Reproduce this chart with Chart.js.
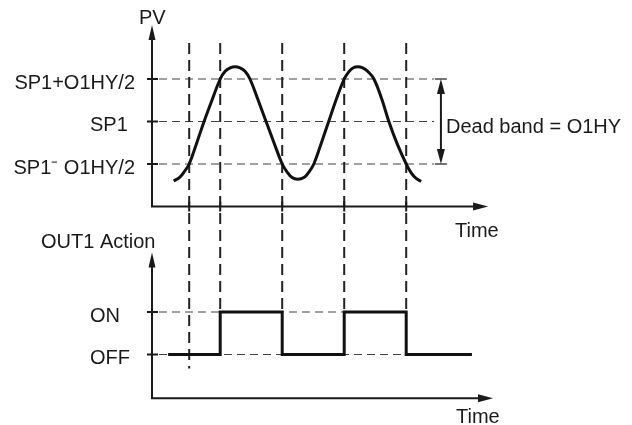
<!DOCTYPE html>
<html>
<head>
<meta charset="utf-8">
<title>OUT1 dead band</title>
<script src="https://cdn.jsdelivr.net/npm/chart.js@4.4.1/dist/chart.umd.min.js"></script>
<style>
    html, body { margin: 0; padding: 0; background: #fff; }
    #grafico { display: block; }
</style>
</head>
<body>
<canvas id="grafico" width="632" height="425"></canvas>
<script>
// PV curve: time and PV (relative to SP1, in units of O1HY/2)
const pvTime = [3.5, 4.5, 5.3, 6, 7.2, 8.4, 9.7, 11, 11.8, 12.6, 13.4, 14.2, 15, 15.8,
    17.1, 18.4, 19.7, 21, 21.8, 22.6, 23.5, 24.5, 25.3, 26.1, 27.3, 28.5, 29.7, 31,
    31.8, 32.4, 33.2, 34, 34.8, 35.8, 37.1, 38.2, 39.5, 41, 41.8, 42.6, 43.4];
const pvValue = [-1.4, -1.31, -1.16, -1.0, -0.51, 0, 0.51, 1.0, 1.18, 1.26, 1.29, 1.26, 1.18, 1.0,
    0.51, 0, -0.51, -1.0, -1.19, -1.32, -1.36, -1.32, -1.19, -1.0, -0.51, 0, 0.51, 1.0,
    1.18, 1.26, 1.29, 1.26, 1.18, 1.0, 0.51, 0, -0.51, -1.0, -1.21, -1.34, -1.41];

// OUT1 state changes (0 = OFF, 1 = ON)
const outTime = [2.6, 11, 21, 31, 41, 51.6];
const outState = [0, 1, 0, 1, 0, 0];

// instants where PV crosses a band limit
const switchTimes = [6, 11, 21, 31, 41];

// axis tick labels
const pvTicks = [1, 0, -1];
const pvTickLabels = ['SP1+O1HY/2', 'SP1', 'SP1\u207B O1HY/2'];
const outTicks = [1, 0];
const outTickLabels = ['ON', 'OFF'];

const FONT = '20px "Liberation Sans", Arial, sans-serif';
const INK = '#1a1a1a';

// pixel anchors used to place the three hidden scales over the whole canvas
const W = 632, H = 425;
const ORIGIN_X = 152, PX_PER_T = 6.2;
const PV_ZERO = 121.5, OUT_ZERO = 354.5, PX_PER_V = 42.5;

function scaleRange(zeroPx, pxPerUnit, size) {
    const max = zeroPx / pxPerUnit;
    return { min: max - size / pxPerUnit, max };
}

function line(ctx, x1, y1, x2, y2) {
    ctx.beginPath();
    ctx.moveTo(x1, y1);
    ctx.lineTo(x2, y2);
    ctx.stroke();
}

// filled arrow head with its tip at (x, y), pointing along (dx, dy)
function arrowHead(ctx, x, y, dx, dy, len, half) {
    ctx.beginPath();
    ctx.moveTo(x, y);
    ctx.lineTo(x - dx * len - dy * half, y - dy * len + dx * half);
    ctx.lineTo(x - dx * len + dy * half, y - dy * len - dx * half);
    ctx.closePath();
    ctx.fill();
}

function drawAxes(ctx, x, y, yFrom, yTip, tTip) {
    const x0 = x.getPixelForValue(0);
    const yb = y.getPixelForValue(yFrom);
    const yt = y.getPixelForValue(yTip);
    const xr = x.getPixelForValue(tTip);
    ctx.lineWidth = 2;
    line(ctx, x0, yb, x0, yt + 10);
    line(ctx, x0 - 1, yb, xr - 10, yb);
    arrowHead(ctx, x0, yt, 0, -1, 15, 3.5);
    arrowHead(ctx, xr, yb, 1, 0, 15, 4);
}

function drawTickLabels(ctx, x, y, values, labels) {
    const x0 = x.getPixelForValue(0);
    ctx.lineWidth = 2;
    values.forEach((v, i) => {
        const yp = y.getPixelForValue(v);
        line(ctx, x0 - 5, yp, x0 + 6, yp);
        const w = ctx.measureText(labels[i]).width;
        ctx.fillText(labels[i], Math.min(90, 135 - w), yp + 9.5);
    });
}

const diagramPlugin = {
    id: 'diagram',
    beforeDatasetsDraw(chart) {
        const { ctx, scales: { x, pv, out } } = chart;
        const x0 = x.getPixelForValue(0);
        ctx.save();

        // horizontal guides at the band limits and the output levels
        ctx.strokeStyle = '#444';
        ctx.lineWidth = 1.2;
        ctx.setLineDash([8, 5]);
        pvTicks.forEach(v => {
            const yp = pv.getPixelForValue(v);
            line(ctx, x0 + 7, yp, x.getPixelForValue(45.5), yp);
        });
        const lastSwitch = switchTimes[switchTimes.length - 1];
        outTicks.forEach(v => {
            const yp = out.getPixelForValue(v);
            line(ctx, x0 + 7, yp, x.getPixelForValue(lastSwitch), yp);
        });

        // vertical guides at each crossing, down into the output panel
        ctx.strokeStyle = '#222';
        ctx.lineWidth = 2;
        ctx.setLineDash([11, 6]);
        const top = pv.getPixelForValue(1.85);
        switchTimes.forEach(t => {
            const xp = x.getPixelForValue(t);
            const bottom = outTime.includes(t)
                ? out.getPixelForValue(1)
                : out.getPixelForValue(0) + 14;
            line(ctx, xp, top, xp, bottom);
        });
        ctx.restore();
    },
    afterDatasetsDraw(chart) {
        const { ctx, scales: { x, pv, out } } = chart;
        ctx.save();
        ctx.strokeStyle = INK;
        ctx.fillStyle = INK;
        ctx.font = FONT;
        ctx.textBaseline = 'alphabetic';

        drawAxes(ctx, x, pv, -2, 2.27, 54.2);
        drawAxes(ctx, x, out, -1.03, 2.4, 55);

        // small marks where the crossings meet the time axis
        const yAxisPv = pv.getPixelForValue(-2);
        switchTimes.forEach(t => {
            const xp = x.getPixelForValue(t);
            line(ctx, xp, yAxisPv - 5, xp, yAxisPv + 5);
        });

        drawTickLabels(ctx, x, pv, pvTicks, pvTickLabels);
        drawTickLabels(ctx, x, out, outTicks, outTickLabels);

        // dead band dimension arrow
        const xd = x.getPixelForValue(46.6);
        const yHi = pv.getPixelForValue(1), yLo = pv.getPixelForValue(-1);
        ctx.lineWidth = 2;
        line(ctx, xd, yHi + 10, xd, yLo - 10);
        arrowHead(ctx, xd, yHi, 0, -1, 15, 4);
        arrowHead(ctx, xd, yLo, 0, 1, 15, 4);
        ctx.lineWidth = 1.2;
        line(ctx, xd - 6, yHi, xd + 6, yHi);
        line(ctx, xd - 6, yLo, xd + 6, yLo);
        ctx.fillText('Dead band = O1HY', 446, pv.getPixelForValue(0) + 11.5);

        // axis titles
        ctx.fillText('PV', 139, 24);
        ctx.fillText('Time', 455, 237);
        ctx.fillText('OUT1 Action', 41, 248);
        ctx.fillText('Time', 456, 423);
        ctx.restore();
    }
};

function criarDiagrama() {
    const canvas = document.getElementById('grafico');
    const ctx = canvas.getContext('2d');
    const xRange = { min: -ORIGIN_X / PX_PER_T, max: (W - ORIGIN_X) / PX_PER_T };

    new Chart(ctx, {
        type: 'line',
        data: {
            datasets: [
                {
                    label: 'PV',
                    data: pvTime.map((t, i) => ({ x: t, y: pvValue[i] })),
                    yAxisID: 'pv',
                    borderColor: '#111',
                    borderWidth: 3,
                    pointRadius: 0,
                    tension: 0.4,
                    fill: false,
                },
                {
                    label: 'OUT1',
                    data: outTime.map((t, i) => ({ x: t, y: outState[i] })),
                    yAxisID: 'out',
                    borderColor: '#111',
                    borderWidth: 3,
                    pointRadius: 0,
                    stepped: 'before',
                    fill: false,
                },
            ],
        },
        options: {
            responsive: false,
            animation: false,
            devicePixelRatio: 1,
            layout: { padding: 0 },
            plugins: {
                legend: { display: false },
                tooltip: { enabled: false },
            },
            scales: {
                x: { type: 'linear', display: false, ...xRange },
                pv: { type: 'linear', display: false, ...scaleRange(PV_ZERO, PX_PER_V, H) },
                out: { type: 'linear', display: false, ...scaleRange(OUT_ZERO, PX_PER_V, H) },
            },
        },
        plugins: [diagramPlugin],
    });
}

document.addEventListener('DOMContentLoaded', criarDiagrama);
</script>
</body>
</html>
